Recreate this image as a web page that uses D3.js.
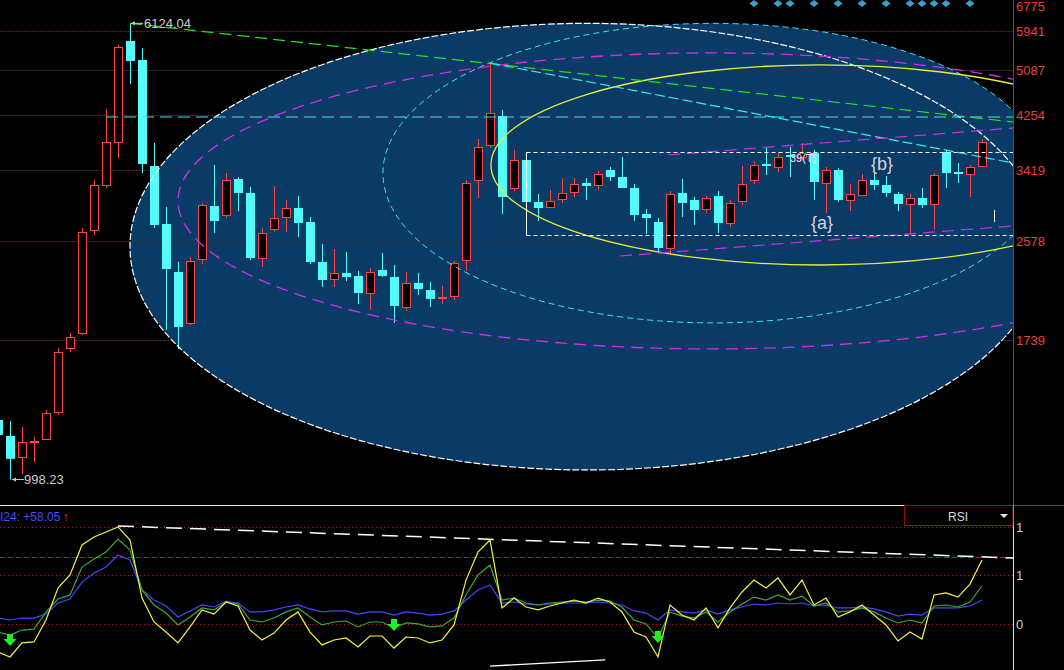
<!DOCTYPE html>
<html><head><meta charset="utf-8">
<script src="https://cdn.jsdelivr.net/npm/d3@7"></script>
<style>body{margin:0;background:#000;overflow:hidden}svg{display:block}</style>
</head><body><svg id="c" width="1064" height="670"></svg>
<script>
// ---------- data (candle index starts at -1) ----------
const firstIndex = -1;
const opens  = [1265,1187,1092,1160,1173,1307,1684,1788,2693,3220, 3820,5709,5294,3473,2758,2279,1861,2400,2962,2858, 3298,3120,2409,2704,2836,2939,2780,2371,2216,2270, 2243,2096,2297,2234,1983,2181,2121,2055,2072,2390, 3285,3775,4237,3182,3557,3010,2951,3046,3132,3246, 3220,3418,3324,3182,2870,2780,2507,3120,3034,2927, 3083,2769,3022,3285,3501,3459,3628,3600,3657,3246, 3418,3034,3095,3285,3220,3107,2986,3058,2986,3672, 3391,3364,3473];
const highs  = [1290,1260,1230,1183,1317,1684,1788,2714,3285,4356, 5619,6124.04,5553,3805,2951,2371,2419,2998,3487,3377, 3324,3195,2714,3208,3034,3083,2836,2547,2497,2467, 2288,2316,2457,2343,2279,2270,2190,2155,2381,3285, 3866,5231,4339,3701,3600,3107,3157,3311,3311,3311, 3404,3459,3600,3233,2927,2824,3144,3298,3070,3083, 3144,3034,3473,3542,3731,3657,3745,3805,3701,3459, 3445,3233,3364,3364,3338,3132,3107,3182,3377,3701, 3515,3487,3866];
const lows   = [1169,998.23,1021,1070,1169,1291,1658,1774,2640,3182, 3585,4812,3377,2714,1810,1678,1846,2352,2661,2824, 2903,2390,2324,2672,2672,2619,2352,2146,2146,2198, 2007,1959,2234,1861,1951,2079,1983,2007,2039,2288, 3058,3731,2869,3144,2915,2791,2951,2998,3070,3034, 3157,3272,3182,2791,2651,2467,2438,2836,2747,2881, 2661,2726,2974,3233,3351,3391,3324,3557,3034,2881, 3010,2903,3083,3157,3070,2903,2640,2939,2693,3182, 3246,3070,3473];
const closes = [1192,1084,1160,1164,1301,1658,1760,2672,3220,3820, 5575,5273,3501,2747,2306,1831,2381,2974,2791,3285, 3120,2409,2661,2824,2939,2769,2371,2207,2270,2234, 2096,2279,2243,1991,2181,2129,2047,2063,2362,3246, 3745,4288,3070,3557,3010,2939,3022,3120,3233,3208, 3364,3324,3182,2858,2824,2507,3107,2998,2915,3058, 2769,2998,3233,3487,3473,3600,3600,3657,3259,3418, 3034,3107,3285,3220,3120,2986,3058,2974,3351,3377, 3364,3459,3820];

const priceTicks = [1739,2578,3419,4254,5087,5941,6775];

const rsi6  = [10.9,7.9,16.4,17.0,30.3,49.7,57.6,75.8,80.6,83.6, 86.7,78.8,43.6,29.1,23.0,16.4,26.1,36.4,33.9,41.2, 38.8,24.2,18.2,22.4,30.3,35.2,23.0,15.2,18.2,19.4, 13.9,20.6,20.6,13.3,20.0,19.4,16.4,18.2,27.3,54.5, 71.5,78.8,37.6,43.6,38.2,36.4,38.8,40.6,42.4,40.6, 43.6,41.2,35.2,23.0,20.0,7.9,39.4,33.3,30.3,37.6, 25.5,37.6,47.3,54.5,49.7,55.8,45.5,54.5,39.4,43.6, 32.1,35.2,39.4,33.3,27.3,17.6,23.0,18.8,45.5,46.7, 44.2,52.1,66.7];
const rsi12 = [23.0,21.2,24.2,24.8,35.2,43.0,45.5,62.4,67.3,71.5, 79.4,72.7,48.5,39.4,34.5,27.3,32.1,37.6,36.4,41.2, 40.0,30.3,29.1,31.5,35.2,37.6,32.1,27.3,29.1,29.7, 26.1,29.1,29.1,25.5,28.5,27.9,26.1,26.7,31.5,45.5, 57.6,63.6,42.4,43.6,40.6,39.4,40.6,41.2,41.8,41.2, 42.4,41.8,38.2,30.3,27.9,19.4,35.2,32.7,31.5,35.2, 29.1,35.2,40.0,44.2,42.4,45.5,42.4,44.8,38.8,40.6, 35.2,35.8,37.6,35.2,31.5,28.5,30.3,28.5,38.8,39.4, 38.2,41.2,50.9];
const rsi24 = [31.5,30.3,31.5,31.5,33.9,40.6,43.0,53.3,58.8,62.4, 69.7,66.7,48.5,42.4,38.8,32.1,35.8,39.4,38.2,41.8, 40.6,35.2,35.2,36.4,38.2,39.4,37.0,35.2,35.8,35.8, 33.9,35.2,35.2,33.3,35.2,34.5,33.3,33.9,35.8,42.4, 48.5,51.5,40.6,41.2,40.0,39.4,40.0,40.6,40.6,40.6, 41.2,40.6,39.4,35.8,34.5,30.3,36.4,35.2,34.5,36.4, 33.9,36.4,38.2,40.0,39.4,40.6,40.0,40.6,38.8,39.4, 37.6,37.6,38.2,37.0,35.2,32.7,33.9,33.3,37.6,37.6, 37.6,38.8,42.4];
const rsiTickValues = [86.7,57.6,27.9];
const rsiTickLabels = ["1","1","0"];
const rsiGridValues = [86.7,68.5,57.6,27.9];
const signalIdx = [0,32,54];
const signalVal = [18.2,27.3,20.0];
const markIdx = [62,64,65,67,69,71,73,75,76,77,78,80];
const rsiTitle = "I24: +58.05";

// drawn objects (data coordinates: candle index, price)
const ellI0 = [10,31.08,14,40.08], ellI1 = [86.17,86.08,102.8,94.9];
const ellPTop = [6124.04,6124.04,5444,5190], ellPBot = [1037,1861,1678,2343];
const lineI0 = [10,40,8,54.83,50.83], lineP0 = [6124.04,5231,4220,3628,2428];
const lineI1 = [83.6,83.6,83.6,83.6,83.6], lineP1 = [4137,3515,4220,4039,2736];
const rectI = [43,84], rectP = [3672,2640];
const rsiLineI0=[9,40], rsiLineV0=[87.3,2.4], rsiLineI1=[83.6,49.6], rsiLineV1=[67.9,6.1];

// ---------- scales ----------
const AX = 1013, MB = 505;
const x = d3.scaleLinear().domain([0,81]).range([10,982]);
const y = d3.scaleLog().domain([1000,6000]).range([479.1,28.5]);
const ry = d3.scaleLinear().domain([0,100]).range([670,505]);

const svg = d3.select('#c');
const defs = svg.append('defs');
defs.append('clipPath').attr('id','cm').append('rect').attr('x',0).attr('y',0).attr('width',AX).attr('height',MB);
defs.append('clipPath').attr('id','cr').append('rect').attr('x',0).attr('y',MB+1).attr('width',AX).attr('height',670-MB);

const candles = opens.map((o,k)=>({i:k+firstIndex,o,h:highs[k],l:lows[k],c:closes[k]}));

const gm = svg.append('g').attr('clip-path','url(#cm)');
// grid
gm.selectAll('line.grid').data(priceTicks).join('line')
  .attr('x1',0).attr('x2',AX).attr('y1',d=>Math.round(y(d))+0.5).attr('y2',d=>Math.round(y(d))+0.5)
  .attr('stroke','#b01c1c').attr('stroke-dasharray','1,3');

// ellipse fills (white & cyan ellipses are filled)
const ells = ellI0.map((a,k)=>({x0:x(a),x1:x(ellI1[k]),y0:y(ellPTop[k]),y1:y(ellPBot[k])}));
const ellStyle = [{s:'#ffffff',d:'7,2',w:1.2},{s:'#3fe6f2',d:'6,4',w:1},{s:'#d030e8',d:'12,7',w:1.3},{s:'#e6f03a',d:null,w:1.3}];
[0,1].forEach(k=>{
  const e=ells[k];
  gm.append('ellipse').attr('cx',(e.x0+e.x1)/2).attr('cy',(e.y0+e.y1)/2)
    .attr('rx',(e.x1-e.x0)/2).attr('ry',(e.y1-e.y0)/2).attr('fill','#0a3a66');
});
gm.selectAll('line.grid2').data(priceTicks).join('line')
  .attr('x1',0).attr('x2',AX).attr('y1',d=>Math.round(y(d))+0.5).attr('y2',d=>Math.round(y(d))+0.5)
  .attr('stroke','#3a2a40').attr('stroke-opacity',0.6);

// candles
const RED='#ff4646', CY='#54fcfc';
const cg = gm.append('g');
candles.forEach(d=>{
  const up = d.c>=d.o, col = up?RED:CY, cx=Math.round(x(d.i))+0.5;
  cg.append('line').attr('x1',cx).attr('x2',cx).attr('y1',y(d.h)).attr('y2',y(d.l)).attr('stroke',col).attr('stroke-width',1);
  const top=y(Math.max(d.o,d.c)), bot=y(Math.min(d.o,d.c));
  const hgt=Math.max(1,bot-top);
  if(up){
    cg.append('rect').attr('x',cx-4).attr('y',Math.round(top)+0.5).attr('width',8).attr('height',Math.max(1,Math.round(hgt)))
      .attr('fill','#000').attr('stroke',col).attr('stroke-width',1);
  } else {
    cg.append('rect').attr('x',cx-4.5).attr('y',top).attr('width',9).attr('height',Math.max(1.5,hgt)).attr('fill',col);
  }
});
// last cursor tick
gm.append('line').attr('x1',x(82)+0.5).attr('x2',x(82)+0.5).attr('y1',y(2915)).attr('y2',y(2780)).attr('stroke','#fff');

// ellipse strokes
ells.forEach((e,k)=>{
  const st=ellStyle[k];
  gm.append('ellipse').attr('cx',(e.x0+e.x1)/2).attr('cy',(e.y0+e.y1)/2)
    .attr('rx',(e.x1-e.x0)/2).attr('ry',(e.y1-e.y0)/2).attr('fill','none')
    .attr('stroke',st.s).attr('stroke-width',st.w).attr('stroke-dasharray',st.d);
});
// straight drawn lines
const lineStyle=[{s:'#22e022',d:'12,6'},{s:'#3fe6f2',d:'10,4'},{s:'#3fe6f2',d:'12,6'},{s:'#d030e8',d:'12,7'},{s:'#d030e8',d:'12,7'}];
lineI0.forEach((a,k)=>{
  gm.append('line').attr('x1',x(a)).attr('y1',y(lineP0[k])).attr('x2',x(lineI1[k])).attr('y2',y(lineP1[k]))
    .attr('stroke',lineStyle[k].s).attr('stroke-width',1.2).attr('stroke-dasharray',lineStyle[k].d);
});
// dotted rectangle
const rx0=Math.round(x(rectI[0]))+0.5, rx1=x(rectI[1]), ry0=Math.round(y(rectP[0]))+0.5, ry1=Math.round(y(rectP[1]))+0.5;
gm.append('line').attr('x1',rx0).attr('x2',rx1).attr('y1',ry0).attr('y2',ry0).attr('stroke','#fff').attr('stroke-dasharray','4,3');
gm.append('line').attr('x1',rx0).attr('x2',rx1).attr('y1',ry1).attr('y2',ry1).attr('stroke','#fff').attr('stroke-dasharray','4,3');
gm.append('line').attr('x1',rx0).attr('x2',rx0).attr('y1',ry0).attr('y2',ry1).attr('stroke','#fff');

// marks at top
gm.selectAll('path.mk').data(markIdx).join('path')
  .attr('d',d=>{const cx=x(d);return `M${cx},0 L${cx+4.5},3.5 L${cx},7 L${cx-4.5},3.5Z`;})
  .attr('fill','#3c9fd6');

// text annotations
const F='"Liberation Sans", Arial, sans-serif';
const hx=x(10), hy=y(6124.04);
gm.append('line').attr('x1',hx+1).attr('x2',hx+13).attr('y1',hy).attr('y2',hy).attr('stroke','#ccc');
gm.append('path').attr('d',`M${hx+1},${hy} l4,-2 l0,4z`).attr('fill','#ccc');
gm.append('text').attr('x',hx+14).attr('y',hy+4.5).text('6124.04').attr('fill','#cfcfcf').attr('font-family',F).attr('font-size',13);
const lx=x(0), ly=y(998.23);
gm.append('line').attr('x1',lx+2).attr('x2',lx+14).attr('y1',ly).attr('y2',ly).attr('stroke','#ccc');
gm.append('path').attr('d',`M${lx+2},${ly} l4,-2 l0,4z`).attr('fill','#ccc');
gm.append('text').attr('x',lx+14).attr('y',ly+4.5).text('998.23').attr('fill','#cfcfcf').attr('font-family',F).attr('font-size',13);
gm.append('text').attr('x',x(67.67)).attr('y',y(2704)).text('{a}').attr('fill','#cfd6de').attr('font-family',F).attr('font-size',18).attr('text-anchor','middle');
gm.append('text').attr('x',x(72.67)).attr('y',y(3418)).text('{b}').attr('fill','#cfd6de').attr('font-family',F).attr('font-size',18).attr('text-anchor','middle');
gm.append('text').attr('x',x(65)).attr('y',y(3530)).text('39(T)').attr('fill','#f0f0f0').attr('font-family',F).attr('font-size',11);

// price axis
svg.append('line').attr('x1',AX+0.5).attr('x2',AX+0.5).attr('y1',0).attr('y2',MB).attr('stroke','#c81e1e');
svg.selectAll('text.pt').data(priceTicks).join('text')
  .attr('x',AX+3).attr('y',d=>Math.max(11,y(d)+5)).text(d=>d).attr('fill','#e8413c').attr('font-family',F).attr('font-size',13);

// panel separator
svg.append('line').attr('x1',0).attr('x2',AX).attr('y1',MB+0.5).attr('y2',MB+0.5).attr('stroke','#e8e8e8');
svg.append('line').attr('x1',AX).attr('x2',1064).attr('y1',MB+0.5).attr('y2',MB+0.5).attr('stroke','#c81e1e');

// ---------- RSI panel ----------
const gr = svg.append('g').attr('clip-path','url(#cr)');
gr.selectAll('line.rg').data(rsiGridValues).join('line')
  .attr('x1',0).attr('x2',AX).attr('y1',d=>Math.round(ry(d))+0.5).attr('y2',d=>Math.round(ry(d))+0.5)
  .attr('stroke','#b01c1c').attr('stroke-dasharray',(d,k)=>k===1?'5,3':'1,3');
const lineGen = arr => d3.line().x((v,k)=>x(k+firstIndex)).y(v=>ry(v))(arr);
[[rsi24,'#4646ff'],[rsi12,'#3aa83a'],[rsi6,'#f4f43c']].forEach(([arr,col])=>{
  gr.append('path').attr('d',lineGen(arr)).attr('fill','none').attr('stroke',col).attr('stroke-width',1.2);
});
gr.append('line').attr('x1',x(rsiLineI0[0])).attr('y1',ry(rsiLineV0[0])).attr('x2',x(rsiLineI1[0])).attr('y2',ry(rsiLineV1[0]))
  .attr('stroke','#fff').attr('stroke-width',1.5).attr('stroke-dasharray','16,8');
gr.append('line').attr('x1',x(rsiLineI0[1])).attr('y1',ry(rsiLineV0[1])).attr('x2',x(rsiLineI1[1])).attr('y2',ry(rsiLineV1[1]))
  .attr('stroke','#fff').attr('stroke-width',1.3);
signalIdx.forEach((s,k)=>{
  const cx=x(s), cy=ry(signalVal[k]);
  gr.append('path').attr('d',`M${cx-3},${cy-6} h6 v5 h3.5 l-6.5,7 l-6.5,-7 h3.5z`).attr('fill','#22ee22');
});
// RSI axis
svg.append('line').attr('x1',AX+0.5).attr('x2',AX+0.5).attr('y1',MB).attr('y2',670).attr('stroke','#e0e0e0');
svg.selectAll('text.rt').data(rsiTickValues).join('text')
  .attr('x',AX+3).attr('y',d=>ry(d)+5).text((d,k)=>rsiTickLabels[k]).attr('fill','#d0d0d0').attr('font-family',F).attr('font-size',13);
// tab
svg.append('rect').attr('x',904.5).attr('y',MB+0.5).attr('width',AX-904.5).attr('height',20).attr('fill','#000').attr('stroke','#8a1616');
svg.append('line').attr('x1',0).attr('x2',904).attr('y1',MB+0.5).attr('y2',MB+0.5).attr('stroke','#e8e8e8');
svg.append('text').attr('x',958).attr('y',MB+16).attr('text-anchor','middle').text('RSI').attr('fill','#d8d8d8').attr('font-family',F).attr('font-size',12);
svg.append('path').attr('d',`M1000,${MB+9} h8 l-4,4z`).attr('fill','#e0e0e0');
// title
const tt = svg.append('text').attr('x',0).attr('y',MB+16).text(rsiTitle).attr('fill','#4a4aff').attr('font-family',F).attr('font-size',12);
const tw = tt.node().getComputedTextLength();
svg.append('text').attr('x',tw+2).attr('y',MB+16).text('↑').attr('fill','#ff3030').attr('font-family',F).attr('font-size',12);
</script></body></html>
